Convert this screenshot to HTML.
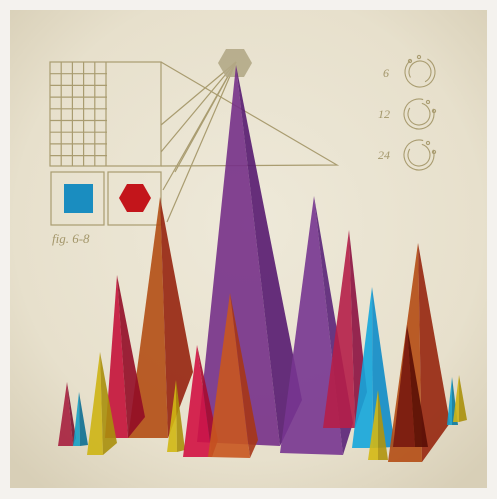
<!DOCTYPE html>
<html><head><meta charset="utf-8"><style>
html,body{margin:0;padding:0;background:#f3f1ec}
svg{display:block}
</style></head><body>
<svg width="497" height="499" viewBox="0 0 497 499">
<defs>
<radialGradient id="bg" cx="50%" cy="45%" r="70%">
<stop offset="0" stop-color="#eee9d9"/><stop offset="0.7" stop-color="#e7e0cc"/><stop offset="1" stop-color="#d8cfb7"/>
</radialGradient>
</defs>
<rect x="0" y="0" width="497" height="499" fill="#f4f2ee"/>
<rect x="10" y="10" width="477" height="478" fill="url(#bg)"/>
<g id="diagram" stroke="#a99c70" stroke-width="1.2" fill="none">
<rect x="50" y="62" width="111" height="104"/>
<g id="grid"></g>
<polyline points="161,62 337,165 161,166"/>
<line x1="236" y1="62" x2="161" y2="125"/>
<line x1="236" y1="62" x2="161" y2="152"/>
<line x1="236" y1="62" x2="163" y2="190"/>
<line x1="236" y1="62" x2="167" y2="222"/>
<line x1="236" y1="62" x2="175" y2="172"/>
<rect x="51" y="172" width="53" height="53"/>
<rect x="108" y="172" width="53" height="53"/>
</g>
<polygon points="226,49 244,49 252,63 244,77 226,77 218,63" fill="#b2a886" opacity="0.9"/>
<rect x="64" y="184" width="29" height="29" fill="#1a8dc0"/>
<polygon points="127,184 143,184 151,198 143,212 127,212 119,198" fill="#c3151b"/>
<text x="52" y="243" font-family="Liberation Serif, serif" font-style="italic" font-size="13" fill="#a3966a">fig. 6-8</text>
<g font-family="Liberation Serif, serif" font-style="italic" font-size="12" fill="#a3966a">
<text x="383" y="77">6</text>
<text x="378" y="118">12</text>
<text x="378" y="159">24</text>
</g>
<g fill="none" stroke="#a99c70" stroke-width="1.1">
<circle cx="420" cy="72" r="15" stroke-dasharray="76 18" transform="rotate(-60 420 72)"/>
<circle cx="420" cy="72" r="11" stroke-dasharray="52 17" transform="rotate(150 420 72)"/>
<circle cx="410" cy="61" r="1.6"/>
<circle cx="419" cy="57" r="1.6"/>
<circle cx="419" cy="114" r="15" stroke-dasharray="80 14" transform="rotate(-20 419 114)"/>
<circle cx="419" cy="114" r="11" stroke-dasharray="55 14" transform="rotate(-75 419 114)"/>
<circle cx="428" cy="102" r="1.6"/>
<circle cx="434" cy="111" r="1.6"/>
<circle cx="419" cy="155" r="15" stroke-dasharray="80 14" transform="rotate(-20 419 155)"/>
<circle cx="419" cy="155" r="11" stroke-dasharray="55 14" transform="rotate(-75 419 155)"/>
<circle cx="428" cy="143" r="1.6"/>
<circle cx="434" cy="152" r="1.6"/>
</g>
<g id="pyramids"></g>
</svg>
<script>
// pyramid data: apex, base-left, base-mid, base-right points
const names=["purple-main","orange-left","purple-right","crimson-right","cyan-right","orange-right","darkred-right","crimson-left","yellow-left","crimson-small","cyan-small","yellow-mid","crimson-mid","orange-mid","yellow-right","cyan-tiny","yellow-tiny"];
const apexX=[236,160,314,349,372,418,407,117,100,67,79,176,197,230,378,452,459];
const apexY=[65,197,196,230,287,243,325,275,352,382,392,380,345,293,390,377,375];
const baseL=[[197,442],[128,438],[280,453],[323,428],[352,448],[388,462],[393,447],[105,438],[87,455],[58,446],[73,446],[167,452],[183,457],[208,457],[368,460],[447,425],[453,422]];
const baseM=[[280,446],[168,438],[343,455],[355,428],[373,448],[422,462],[415,447],[128,438],[103,455],[73,446],[80,446],[177,452],[212,457],[250,458],[378,460],[452,425],[459,422]];
const baseR=[[302,400],[193,372],[353,423],[367,392],[395,447],[450,423],[428,447],[145,417],[117,443],[76,438],[88,445],[185,450],[218,440],[258,440],[388,460],[458,425],[467,420]];
const colL=["#763088","#b24e14","#773590","#b51e48","#14a6dc","#b44c14","#781810","#c4123a","#cdb414","#a61f3e","#159fc4","#d0b814","#d21242","#c8561f","#d4b814","#149fcc","#cfb414"];
const colR=["#561a70","#96240e","#5a2278","#8c1140","#0e8cc8","#96260e","#5a0e06","#920c26","#a88f0c","#7a1230","#0c6e92","#aa900c","#a60c30","#a63616","#b0940c","#0c7a9c","#aa900c"];
const g=document.getElementById('pyramids');
const NS='http://www.w3.org/2000/svg';
for(let i=0;i<names.length;i++){
  const a=apexX[i]+','+apexY[i];
  const grp=document.createElementNS(NS,'g');
  
  
  const l=document.createElementNS(NS,'polygon');
  l.setAttribute('points',a+' '+baseL[i].join(',')+' '+baseM[i].join(','));
  l.setAttribute('fill',colL[i]);l.setAttribute('fill-opacity','0.9');
  
  
  const r=document.createElementNS(NS,'polygon');
  r.setAttribute('points',a+' '+baseM[i].join(',')+' '+baseR[i].join(','));
  r.setAttribute('fill',colR[i]);r.setAttribute('fill-opacity','0.9');
  
  
  grp.appendChild(l);grp.appendChild(r);g.appendChild(grp);
}
const grid=document.getElementById('grid');
for(let k=1;k<=5;k++){
  const x=50+k*11.2;
  const ln=document.createElementNS(NS,'line');
  ln.setAttribute('x1',x);ln.setAttribute('x2',x);ln.setAttribute('y1',62);ln.setAttribute('y2',166);
  
  
  grid.appendChild(ln);
}
for(let k=1;k<=8;k++){
  const y=62+k*11.7;
  const ln=document.createElementNS(NS,'line');
  ln.setAttribute('x1',50);ln.setAttribute('x2',107);ln.setAttribute('y1',y);ln.setAttribute('y2',y);
  
  
  grid.appendChild(ln);
}
</script>
</body></html>
